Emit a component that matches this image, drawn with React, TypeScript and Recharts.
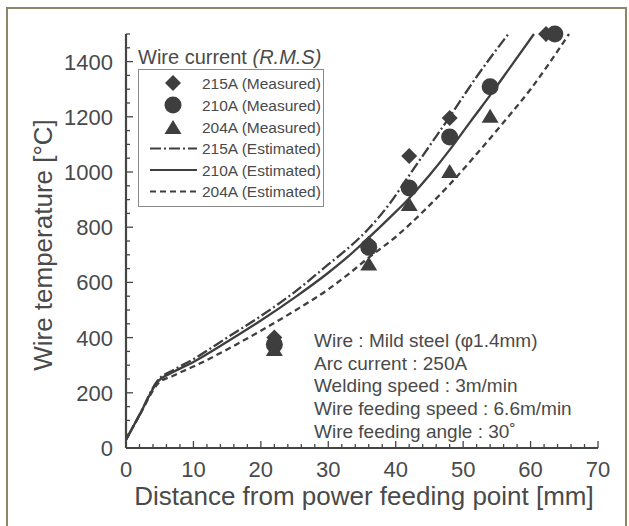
import React from 'react';
import { ComposedChart, Line, Scatter, XAxis, YAxis, Legend } from 'recharts';

// ---------- data ----------
const xMajorTicks = [0, 10, 20, 30, 40, 50, 60, 70];
const yMajorTicks = [0, 200, 400, 600, 800, 1000, 1200, 1400];

const measured215 = [
  { x: 22, y: 400 },
  { x: 36, y: 740 },
  { x: 42, y: 1058 },
  { x: 48, y: 1196 },
  { x: 62.3, y: 1500 },
];
const measured210 = [
  { x: 22, y: 375 },
  { x: 36, y: 727 },
  { x: 42, y: 942 },
  { x: 48, y: 1127 },
  { x: 54, y: 1309 },
  { x: 63.6, y: 1500 },
];
const measured204 = [
  { x: 22, y: 355 },
  { x: 36, y: 665 },
  { x: 42, y: 880 },
  { x: 48, y: 1000 },
  { x: 54, y: 1200 },
];

const estimated215 = [
  { x: 0, y: 30 }, { x: 2, y: 120 }, { x: 4.7, y: 245 }, { x: 7, y: 282 },
  { x: 10, y: 322 }, { x: 15, y: 400 }, { x: 20, y: 478 }, { x: 25, y: 565 },
  { x: 30, y: 665 }, { x: 33, y: 725 }, { x: 36, y: 795 }, { x: 39, y: 882 },
  { x: 42, y: 988 }, { x: 45, y: 1094 }, { x: 48, y: 1200 }, { x: 52, y: 1345 },
  { x: 56.7, y: 1500 },
];
const estimated210 = [
  { x: 0, y: 30 }, { x: 2, y: 120 }, { x: 4.7, y: 240 }, { x: 7, y: 275 },
  { x: 10, y: 312 }, { x: 15, y: 385 }, { x: 20, y: 462 }, { x: 25, y: 545 },
  { x: 30, y: 635 }, { x: 33, y: 695 }, { x: 36, y: 762 }, { x: 39, y: 832 },
  { x: 42, y: 905 }, { x: 45, y: 988 }, { x: 48, y: 1080 }, { x: 51, y: 1180 },
  { x: 54.4, y: 1291 }, { x: 57, y: 1380 }, { x: 60.5, y: 1500 },
];
const estimated204 = [
  { x: 0, y: 30 }, { x: 2, y: 118 }, { x: 4.7, y: 232 }, { x: 7, y: 262 },
  { x: 10, y: 295 }, { x: 15, y: 357 }, { x: 20, y: 425 }, { x: 25, y: 497 },
  { x: 30, y: 575 }, { x: 33, y: 630 }, { x: 36, y: 690 }, { x: 40, y: 765 },
  { x: 44, y: 855 }, { x: 48, y: 955 }, { x: 52, y: 1065 }, { x: 56, y: 1180 },
  { x: 60, y: 1300 }, { x: 65.7, y: 1500 },
];

const legendTitle = 'Wire current ';
const legendTitleItalic = '(R.M.S)';
const legendLabels = [
  '215A (Measured)',
  '210A (Measured)',
  '204A (Measured)',
  '215A (Estimated)',
  '210A (Estimated)',
  '204A (Estimated)',
];
const noteLines = [
  'Wire : Mild steel (\u03c61.4mm)',
  'Arc current : 250A',
  'Welding speed : 3m/min',
  'Wire feeding speed : 6.6m/min',
  'Wire feeding angle : 30\u02da',
];
const xTitle = 'Distance from power feeding point [mm]';
const yTitle = 'Wire temperature [\u00b0C]';

const xAllTicks = Array.from({ length: 36 }, (_, i) => i * 2);
const yAllTicks = Array.from({ length: 31 }, (_, i) => i * 50);

// ---------- styles ----------
const FONT = '"Liberation Sans", Arial, sans-serif';
const INK = '#3e3e3e';
const TEXT = '#4a4a4a';
const AXIS = '#454545';
const DASH_DOT = '11 3 2 3';
const DASHED = '6 4';

// ---------- tick renderers ----------
const BottomTick = (props: any) => {
  const { x, y, payload } = props;
  const v = payload.value;
  const major = xMajorTicks.includes(v);
  return (
    <g>
      <line x1={x} y1={y} x2={x} y2={y - (major ? 7 : 4)} stroke={AXIS} strokeWidth={1.3} />
      {major && (
        <text x={x} y={y + 29} textAnchor="middle" fontSize={22} fill={TEXT} fontFamily={FONT}>
          {v}
        </text>
      )}
    </g>
  );
};
const TopTick = (props: any) => {
  const { x, y, payload } = props;
  const major = xMajorTicks.includes(payload.value);
  return <line x1={x} y1={y} x2={x} y2={y + (major ? 7 : 4)} stroke={AXIS} strokeWidth={1.3} />;
};
const LeftTick = (props: any) => {
  const { x, y, payload } = props;
  const v = payload.value;
  const major = yMajorTicks.includes(v);
  return (
    <g>
      <line x1={x} y1={y} x2={x + (major ? 7 : 4)} y2={y} stroke={AXIS} strokeWidth={1.3} />
      {major && (
        <text x={x - 13} y={y + 8} textAnchor="end" fontSize={22} fill={TEXT} fontFamily={FONT}>
          {v}
        </text>
      )}
    </g>
  );
};
const RightTick = (props: any) => {
  const { x, y, payload } = props;
  const major = yMajorTicks.includes(payload.value);
  return <line x1={x} y1={y} x2={x - (major ? 7 : 4)} y2={y} stroke={AXIS} strokeWidth={1.3} />;
};

// ---------- markers ----------
const DiamondShape = (p: any) => {
  const { cx, cy } = p;
  const r = 8;
  return <polygon points={`${cx},${cy - r} ${cx + r},${cy} ${cx},${cy + r} ${cx - r},${cy}`} fill={INK} />;
};
const CircleShape = (p: any) => {
  const { cx, cy } = p;
  return <circle cx={cx} cy={cy} r={8.5} fill={INK} />;
};
const TriangleShape = (p: any) => {
  const { cx, cy } = p;
  return <polygon points={`${cx},${cy - 8} ${cx + 8.5},${cy + 6} ${cx - 8.5},${cy + 6}`} fill={INK} />;
};

// ---------- labels ----------
const XTitleLabel = (props: any) => {
  const vb = props.viewBox;
  return (
    <text x={vb.x + vb.width / 2 + 2} y={vb.y + 57} textAnchor="middle" fontSize={26} fill={TEXT} fontFamily={FONT}>
      {xTitle}
    </text>
  );
};
const YTitleLabel = (props: any) => {
  const vb = props.viewBox;
  const cx = vb.x + 43;
  const cy = vb.y + vb.height / 2 + 4;
  return (
    <text x={cx} y={cy} transform={`rotate(-90 ${cx} ${cy})`} textAnchor="middle" dominantBaseline="central" fontSize={26} fill={TEXT} fontFamily={FONT}>
      {yTitle}
    </text>
  );
};

// ---------- legend ----------
const renderLegend = () => {
  const rows = [14, 36, 58, 79.5, 101, 122.5];
  return (
    <div style={{ position: 'relative', width: 190, height: 165, fontFamily: FONT }}>
      <div style={{ position: 'absolute', left: 0, top: 0, fontSize: 20, lineHeight: '26px', color: TEXT, whiteSpace: 'nowrap' }}>
        {legendTitle}
        <span style={{ fontStyle: 'italic' }}>{legendTitleItalic}</span>
      </div>
      <svg style={{ position: 'absolute', left: 0, top: 25 }} width={186} height={138}>
        <rect x={0.5} y={0.5} width={185} height={137} fill="#fff" stroke="#8a8a8a" strokeWidth={1} />
        <DiamondShape cx={35} cy={rows[0]} />
        <CircleShape cx={35} cy={rows[1]} />
        <TriangleShape cx={35} cy={rows[2] + 1} />
        <line x1={12} x2={59} y1={rows[3]} y2={rows[3]} stroke={INK} strokeWidth={2} strokeDasharray={DASH_DOT} />
        <line x1={12} x2={59} y1={rows[4]} y2={rows[4]} stroke={INK} strokeWidth={2} />
        <line x1={12} x2={59} y1={rows[5]} y2={rows[5]} stroke={INK} strokeWidth={2} strokeDasharray={DASHED} />
        {legendLabels.map((t, i) => (
          <text key={t} x={64} y={rows[i] + 5.5} fontSize={15.5} fill={TEXT} fontFamily={FONT}>
            {t}
          </text>
        ))}
      </svg>
    </div>
  );
};

export default function App() {
  return (
    <div style={{ position: 'absolute', left: 0, top: 0, width: 629, height: 526, background: '#fff', overflow: 'hidden' }}>
      <div
        style={{
          position: 'absolute',
          left: 6,
          top: 7,
          width: 621,
          height: 540,
          border: '2px solid #8c876b',
          boxSizing: 'border-box',
        }}
      />
      <div style={{ position: 'absolute', left: 0, top: 0 }}>
        <ComposedChart width={629} height={526} margin={{ top: 34, right: 31, bottom: 0, left: 0 }}>
          <XAxis
            xAxisId="main"
            dataKey="x"
            type="number"
            domain={[0, 70]}
            ticks={xAllTicks}
            interval={0}
            height={78}
            tickSize={0}
            tickMargin={0}
            tickLine={false}
            tick={<BottomTick />}
            axisLine={{ stroke: AXIS, strokeWidth: 2.2 }}
            label={<XTitleLabel />}
          />
          <XAxis
            xAxisId="top"
            orientation="top"
            type="number"
            domain={[0, 70]}
            allowDataOverflow
            ticks={xAllTicks}
            interval={0}
            height={0}
            tickSize={0}
            tickMargin={0}
            tickLine={false}
            tick={<TopTick />}
            axisLine={{ stroke: AXIS, strokeWidth: 2.2 }}
          />
          <YAxis
            yAxisId="main"
            dataKey="y"
            type="number"
            domain={[0, 1500]}
            ticks={yAllTicks}
            interval={0}
            width={126}
            tickSize={0}
            tickMargin={0}
            tickLine={false}
            tick={<LeftTick />}
            axisLine={{ stroke: AXIS, strokeWidth: 2.2 }}
            label={<YTitleLabel />}
          />
          <YAxis
            yAxisId="right"
            orientation="right"
            type="number"
            domain={[0, 1500]}
            allowDataOverflow
            ticks={yAllTicks}
            interval={0}
            width={0}
            tickSize={0}
            tickMargin={0}
            tickLine={false}
            tick={<RightTick />}
            axisLine={{ stroke: AXIS, strokeWidth: 2.2 }}
          />
          <Legend
            layout="horizontal"
            verticalAlign="middle"
            align="center"
            content={renderLegend}
            wrapperStyle={{ position: 'absolute', left: 138, top: 44, width: 190, height: 165 }}
          />
          <Line xAxisId="main" yAxisId="main" data={estimated215} dataKey="y" type="monotone" stroke={INK} strokeWidth={2.3} strokeDasharray={DASH_DOT} dot={false} activeDot={false} isAnimationActive={false} />
          <Line xAxisId="main" yAxisId="main" data={estimated210} dataKey="y" type="monotone" stroke={INK} strokeWidth={2.3} dot={false} activeDot={false} isAnimationActive={false} />
          <Line xAxisId="main" yAxisId="main" data={estimated204} dataKey="y" type="monotone" stroke={INK} strokeWidth={2.3} strokeDasharray={DASHED} dot={false} activeDot={false} isAnimationActive={false} />
          <Scatter xAxisId="main" yAxisId="main" data={measured215} dataKey="y" shape={<DiamondShape />} isAnimationActive={false} />
          <Scatter xAxisId="main" yAxisId="main" data={measured210} dataKey="y" shape={<CircleShape />} isAnimationActive={false} />
          <Scatter xAxisId="main" yAxisId="main" data={measured204} dataKey="y" shape={<TriangleShape />} isAnimationActive={false} />
        </ComposedChart>
      </div>
      <div style={{ position: 'absolute', left: 314, top: 330, fontFamily: FONT, fontSize: 19, lineHeight: '22.7px', color: TEXT, whiteSpace: 'nowrap' }}>
        {noteLines.map((t) => (
          <div key={t}>{t}</div>
        ))}
      </div>
    </div>
  );
}
